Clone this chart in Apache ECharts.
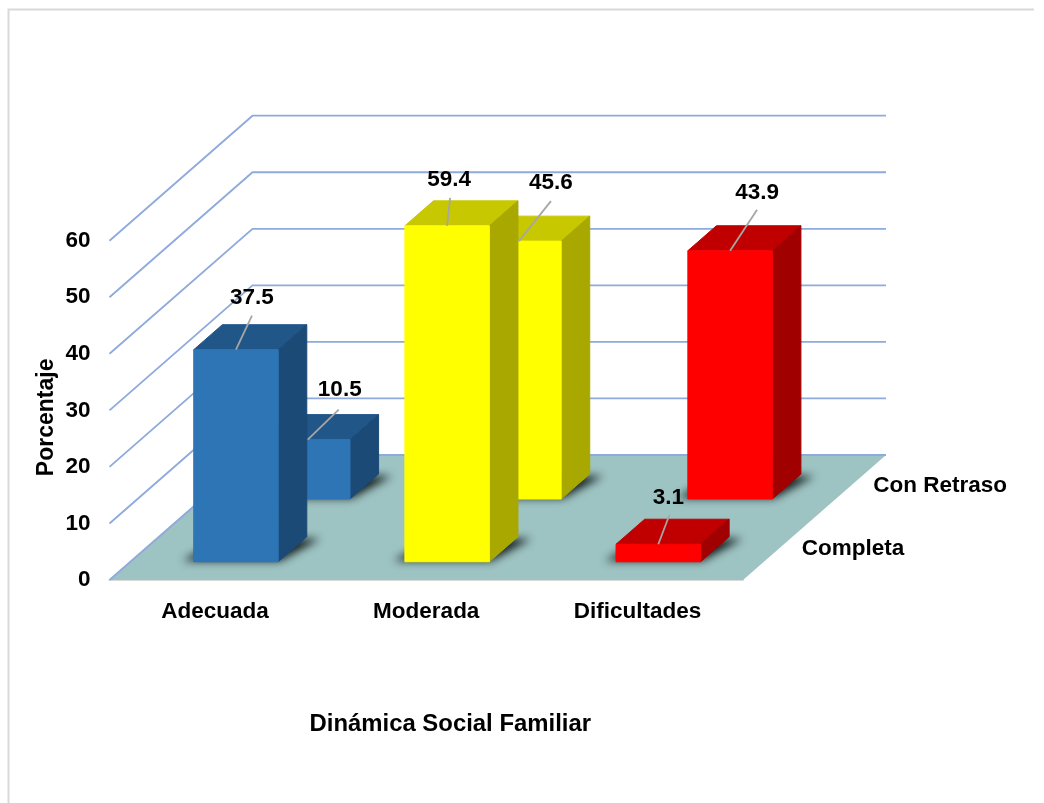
<!DOCTYPE html>
<html>
<head>
<meta charset="utf-8">
<script src="https://cdn.jsdelivr.net/npm/echarts@6/dist/echarts.min.js"></script>
<style>html,body{margin:0;padding:0;background:#fff}#c{width:1044px;height:803px}</style>
</head>
<body>
<div id="c"></div>
<script>
const categories = ['Adecuada', 'Moderada', 'Dificultades'];
const rowNames = ['Completa', 'Con Retraso'];
const completa = [37.5, 59.4, 3.1];
const conRetraso = [10.5, 45.6, 43.9];
const yTicks = [0, 10, 20, 30, 40, 50, 60];
const yTitle = 'Porcentaje';
const xTitle = 'Dinámica Social Familiar';

// Oblique projection and styling
const DEPTH_X = 143, DEPTH_Y = 125;
const FONT = '"Liberation Sans",Arial,sans-serif';
const FS = 22.5;
const BAR_W = 0.4, BAR_D = 0.2;
const DEPTH_FRONT = 0.146, DEPTH_BACK = 0.648;
const ROW_DEPTH = [0.25, 0.75];
const OFFSCREEN = 3000;
const palette = [
  {front:'#2E75B6', top:'#215689', side:'#1C4A76'},
  {front:'#FFFF00', top:'#C8C800', side:'#A8A800'},
  {front:'#FF0000', top:'#C00000', side:'#A00000'}
];
const leaderFront = [[16,-34,16,-52],[3,-28,2,-46],[11,-29,10,-46]];
const leaderBack  = [[31,-30,32,-50],[32,-40,32,-58],[27,-41,27,-58]];

const shift = (p, d) => [p[0] + DEPTH_X * d, p[1] - DEPTH_Y * d];

function floorItem(params) {
  const g = params.coordSys;
  const l = g.x, r = g.x + g.width, b = g.y + g.height;
  return {type:'polygon', silent:true, shape:{points:[[l,b],[r,b],shift([r,b],1),shift([l,b],1)]},
          style:{fill:'#9DC3C2'}};
}
function wallItem(params, api) {
  const g = params.coordSys;
  const y = api.coord([0, api.value(0)])[1];
  const a = [g.x, y], b = shift(a, 1), c = [b[0] + g.width, b[1]];
  return {type:'polyline', silent:true, shape:{points:[a,b,c]},
          style:{fill:null, stroke:'#8FAADC', lineWidth:1.8}};
}
function barBox(api, d0) {
  const i = api.value(0), v = api.value(1), w = api.size([1,0])[0] * BAR_W;
  const base = api.coord([i, 0]), top = api.coord([i, v]);
  const x0 = base[0] - w/2, x1 = base[0] + w/2;
  return {
    fbl: shift([x0, base[1]], d0), fbr: shift([x1, base[1]], d0),
    ftl: shift([x0, top[1]], d0),  ftr: shift([x1, top[1]], d0),
    bbl: shift([x0, base[1]], d0+BAR_D), bbr: shift([x1, base[1]], d0+BAR_D),
    btl: shift([x0, top[1]], d0+BAR_D),  btr: shift([x1, top[1]], d0+BAR_D)
  };
}
const shadowItem = d0 => (params, api) => {
  const b = barBox(api, d0);
  const pts = [[b.fbl[0]-11,b.fbl[1]-1],[b.fbr[0]+2,b.fbr[1]-1],[b.bbr[0]+13,b.bbr[1]+2],[b.bbl[0],b.bbl[1]+2]];
  return {type:'polygon', silent:true,
    shape:{points:pts.map(p => [p[0]-OFFSCREEN, p[1]])},
    style:{fill:'#000', shadowBlur:8, shadowOffsetX:OFFSCREEN, shadowColor:'rgba(20,30,30,1)'}};
};
const barItem = d0 => (params, api) => {
  const b = barBox(api, d0), c = palette[api.value(0)];
  const face = col => ({fill:col, stroke:col, lineWidth:1});
  return {type:'group', children:[
    {type:'polygon', shape:{points:[b.ftl,b.ftr,b.btr,b.btl]}, style:face(c.top)},
    {type:'polygon', shape:{points:[b.fbr,b.bbr,b.btr,b.ftr]}, style:face(c.side)},
    {type:'polygon', shape:{points:[b.fbl,b.fbr,b.ftr,b.ftl]}, style:face(c.front)}
  ]};
};
const labelItem = (d0, offs) => (params, api) => {
  const i = api.value(0), v = api.value(1);
  const p = shift(api.coord([i, v]), d0), o = offs[i];
  return {type:'group', children:[
    {type:'line', shape:{x1:p[0], y1:p[1], x2:p[0]+o[0], y2:p[1]+o[1]},
     style:{stroke:'#A6A6A6', lineWidth:1.8}},
    {type:'text', style:{x:p[0]+o[2], y:p[1]+o[3], text:v.toFixed(1), fill:'#000',
      font:'bold '+FS+'px '+FONT, align:'center', verticalAlign:'middle'}}
  ]};
};
const depthLabelItem = (params) => {
  const g = params.coordSys;
  const p = shift([g.x + g.width, g.y + g.height], ROW_DEPTH[params.dataIndex]);
  return {type:'text', style:{x:p[0]+23, y:p[1], text:rowNames[params.dataIndex], fill:'#000',
    font:'bold '+FS+'px '+FONT, align:'left', verticalAlign:'middle'}};
};
const custom = (renderItem, data, plain) => ({type:'custom', renderItem, data, silent:true,
  animation:false, encode: plain ? undefined : {x:0, y:1}});
const rows = v => v.map((x, i) => [i, x]);

const chart = echarts.init(document.getElementById('c'), null, {renderer:'canvas'});
chart.setOption({
  animation:false,
  backgroundColor:'#fff',
  grid:{left:109.5, top:240.7, width:633.5, height:339.3, containLabel:false},
  xAxis:{type:'category', data:categories, axisTick:{show:false},
    axisLine:{lineStyle:{color:'#D9D9D9', width:2}},
    axisLabel:{color:'#000', fontFamily:FONT, fontWeight:'bold', fontSize:FS, margin:20},
    name:xTitle, nameLocation:'middle', nameGap:132,
    nameTextStyle:{color:'#000', fontFamily:FONT, fontWeight:'bold', fontSize:23.9, padding:[0,0,0,48]}},
  yAxis:{type:'value', min:0, max:60, interval:10, splitLine:{show:false},
    axisLine:{show:false}, axisTick:{show:false},
    axisLabel:{color:'#000', fontFamily:FONT, fontWeight:'bold', fontSize:FS, margin:19},
    name:yTitle, nameLocation:'middle', nameGap:51, nameRotate:90, nameMoveOverlap:false,
    nameTextStyle:{color:'#000', fontFamily:FONT, fontWeight:'bold', fontSize:23, padding:[0,14,0,0]}},
  graphic:[
    {type:'polyline', silent:true, z:-1, shape:{points:[[8.5,803],[8.5,9.5],[1034,9.5]]},
     style:{fill:null, stroke:'#D9D9D9', lineWidth:2}}
  ],
  series:[
    custom(floorItem, [[0,0]]),
    custom(wallItem, yTicks.map(t => [t]), true),
    custom(shadowItem(DEPTH_BACK), rows(conRetraso)),
    custom(barItem(DEPTH_BACK), rows(conRetraso)),
    custom(shadowItem(DEPTH_FRONT), rows(completa)),
    custom(barItem(DEPTH_FRONT), rows(completa)),
    custom(labelItem(DEPTH_BACK, leaderBack), rows(conRetraso)),
    custom(labelItem(DEPTH_FRONT, leaderFront), rows(completa)),
    custom(depthLabelItem, rowNames.map((n, i) => [i]), true)
  ]
});
</script>
</body>
</html>
